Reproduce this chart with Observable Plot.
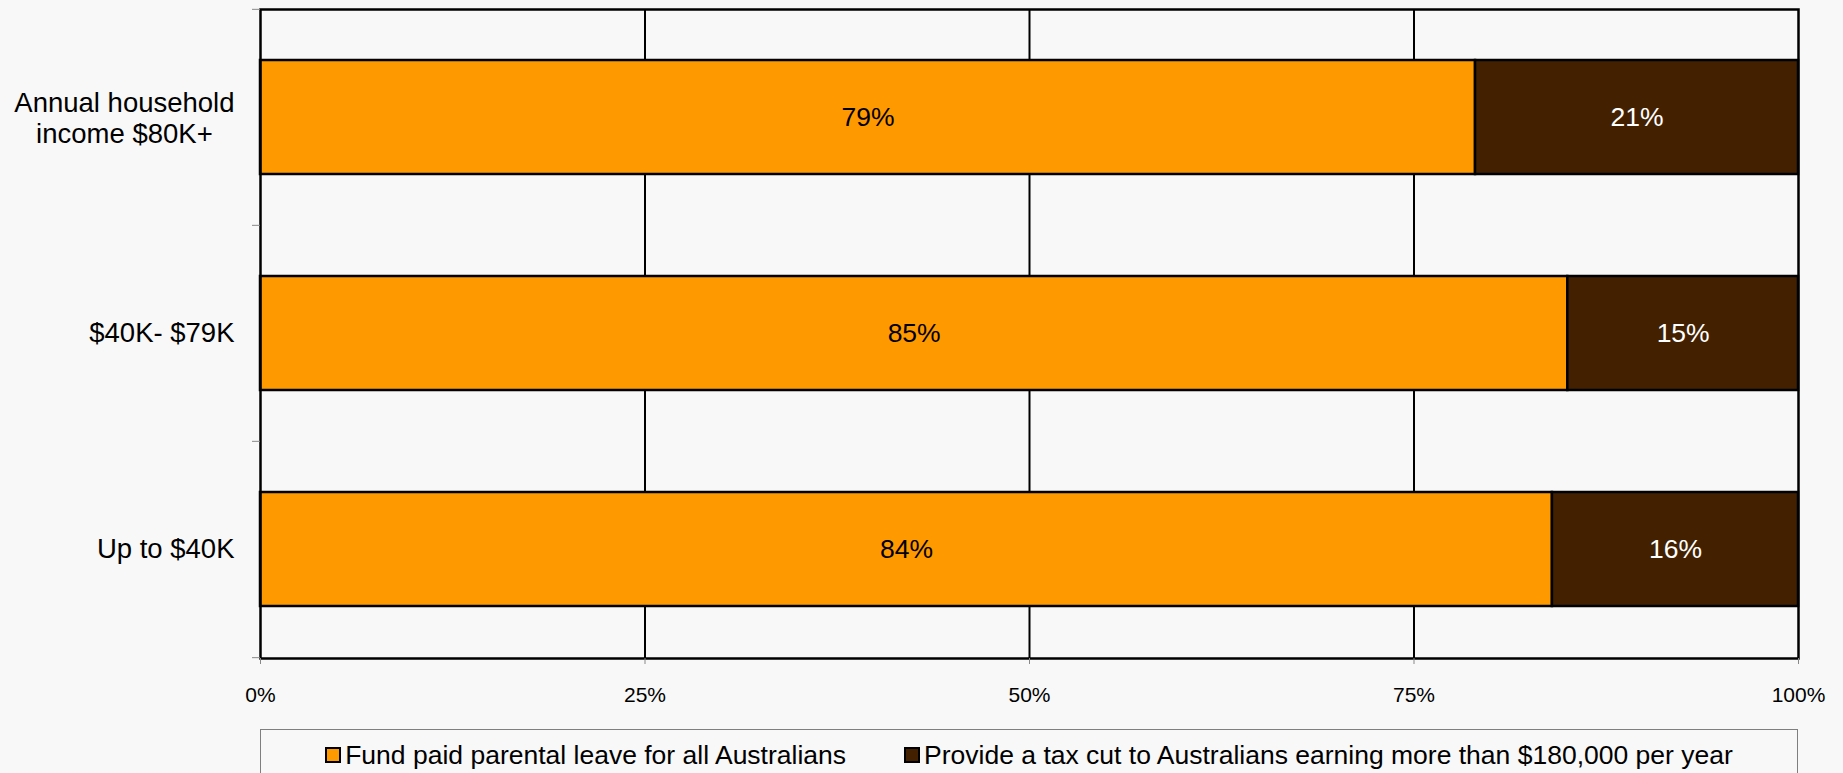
<!DOCTYPE html>
<html><head><meta charset="utf-8">
<script src="https://cdn.jsdelivr.net/npm/d3@7"></script>
<script src="https://cdn.jsdelivr.net/npm/@observablehq/plot@0.6"></script>
<style>
html,body{margin:0;padding:0;background:#f8f8f8;overflow:hidden;}
body{font-family:"Liberation Sans",Arial,Helvetica,sans-serif;}
#chart{position:absolute;left:0;top:0;}
#legend{position:absolute;left:260px;top:729px;width:1538px;height:60px;border:1px solid #7f7f7f;box-sizing:border-box;display:flex;justify-content:center;align-items:flex-start;gap:58px;padding-top:10px;font-size:26.5px;line-height:30px;color:#000;}
.item{display:flex;align-items:center;white-space:nowrap;}
.sw{width:12px;height:12px;border:2px solid #000;margin-right:4px;}
</style>
</head><body>
<div id="chart"></div>
<div id="legend"></div>
<script>
const categories = ["Annual household\nincome $80K+", "$40K- $79K", "Up to $40K"];
const seriesNames = ["Fund paid parental leave for all Australians", "Provide a tax cut to Australians earning more than $180,000 per year"];
const seriesColors = ["#ff9900", "#432100"];
const labelColors = ["#000000", "#ffffff"];
const fundValues = [79, 85, 84];
const taxValues = [21, 15, 16];
const xTicks = [0, 25, 50, 75, 100];
const gridTicks = [25, 50, 75];

const data = [];
categories.forEach((c, i) => {
  data.push({cat: c, series: seriesNames[0], value: fundValues[i]});
  data.push({cat: c, series: seriesNames[1], value: taxValues[i]});
});

const W = 1843, H = 720, mt = 9, mb = 62, ml = 260, mr = 45;
const step = (H - mt - mb) / categories.length;
const yFont = 27.5, yPad = 26;
const fontFam = "'Liberation Sans', Arial, Helvetica, sans-serif";

// multi-line labels are centred on their longest line, right-aligned as a block
const ctx = document.createElement("canvas").getContext("2d");
ctx.font = `${yFont}px ${fontFam}`;
const multi = categories.filter(c => c.includes("\n"));
const single = categories.filter(c => !c.includes("\n"));
const multiMarks = multi.map(c => {
  const w = Math.max(...c.split("\n").map(l => ctx.measureText(l).width));
  return Plot.axisY([c], {tickSize: 0, tickPadding: yPad + w / 2, textAnchor: "middle", fontSize: yFont, lineHeight: 1.15, fill: "#000", label: null});
});

const plot = Plot.plot({
  width: W, height: H,
  marginTop: mt, marginBottom: mb, marginLeft: ml, marginRight: mr,
  style: {background: "transparent", fontFamily: fontFam, color: "#000"},
  x: {domain: [0, 100], label: null},
  y: {domain: categories, paddingInner: 0.472, paddingOuter: 0.236, label: null},
  color: {domain: seriesNames, range: seriesColors},
  marks: [
    Plot.ruleX(gridTicks, {stroke: "#000", strokeWidth: 2}),
    Plot.barX(data, Plot.stackX({x: "value", y: "cat", fill: "series", stroke: "#000", strokeWidth: 2.5, order: seriesNames})),
    Plot.text(data, Plot.stackX({x: "value", y: "cat", z: "series", order: seriesNames,
      text: d => d.value + "%",
      fill: d => labelColors[seriesNames.indexOf(d.series)],
      fontSize: 26.5})),
    Plot.frame({stroke: "#000", strokeWidth: 2.5}),
    Plot.axisX({ticks: xTicks, tickFormat: d => d + "%", tickSize: 6, tickPadding: 23, fontSize: 21, stroke: "#888", fill: "#000", label: null}),
    Plot.axisY(single, {tickSize: 0, tickPadding: yPad, fontSize: yFont, fill: "#000", label: null}),
    ...multiMarks,
    Plot.axisY(categories, {tickSize: 8, tickFormat: null, dy: -step / 2, stroke: "#888", label: null}),
    Plot.axisY(categories.slice(-1), {tickSize: 8, tickFormat: null, dy: step / 2, stroke: "#888", label: null})
  ]
});
document.getElementById("chart").appendChild(plot);

const legend = document.getElementById("legend");
seriesNames.forEach((s, i) => {
  const it = document.createElement("div");
  it.className = "item";
  const sw = document.createElement("span");
  sw.className = "sw";
  sw.style.background = seriesColors[i];
  const t = document.createElement("span");
  t.textContent = s;
  it.appendChild(sw); it.appendChild(t);
  legend.appendChild(it);
});
</script>
</body></html>
